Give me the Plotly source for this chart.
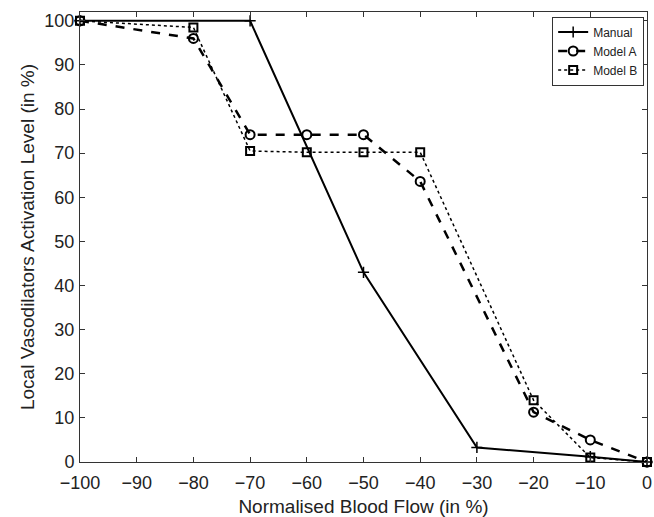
import plotly.graph_objects as go

manual_x = [-100, -70, -50, -30, -10, 0]
manual_y = [100, 100, 43, 3.3, 1.2, 0]
modelA_x = [-100, -80, -70, -60, -50, -40, -20, -10, 0]
modelA_y = [100, 96, 74.2, 74.2, 74.2, 63.6, 11.3, 5, 0]
modelB_x = [-100, -80, -70, -60, -50, -40, -20, -10, 0]
modelB_y = [100, 98.5, 70.5, 70.2, 70.2, 70.2, 14, 1, 0]

x_ticks = list(range(-100, 1, 10))
y_ticks = list(range(0, 101, 10))

font = "Liberation Sans, Arial, sans-serif"
fig = go.Figure()
fig.add_trace(go.Scatter(x=manual_x, y=manual_y, name="Manual", mode="lines+markers", cliponaxis=False,
                         line=dict(color="black", width=2, dash="solid"),
                         marker=dict(symbol="cross-thin", size=8, line=dict(color="black", width=1.5))))
fig.add_trace(go.Scatter(x=modelA_x, y=modelA_y, name="Model A", mode="lines+markers", cliponaxis=False,
                         line=dict(color="black", width=2.5, dash="dash"),
                         marker=dict(symbol="circle-open", size=9, color="black", line=dict(width=2))))
fig.add_trace(go.Scatter(x=modelB_x, y=modelB_y, name="Model B", mode="lines+markers", cliponaxis=False,
                         line=dict(color="black", width=1.5, dash="dot"),
                         marker=dict(symbol="square-open", size=8, color="black", line=dict(width=2))))

axis_common = dict(showgrid=False, zeroline=False, showline=True, linecolor="#333", linewidth=1,
                   mirror="ticks", ticks="inside", ticklen=5, tickcolor="#333",
                   ticklabeloverflow="allow",
                   tickfont=dict(size=18, color="#222", family=font))
fig.update_xaxes(range=[-100, 0], tickvals=x_ticks, ticktext=["\u2212%d" % abs(v) if v < 0 else "0" for v in x_ticks],
                 ticklabelstandoff=4, automargin=False,
                 title=dict(text="Normalised Blood Flow (in %)", font=dict(size=19, color="#222", family=font), standoff=10),
                 **axis_common)
fig.update_yaxes(range=[0, 102], tickvals=y_ticks, ticklabelstandoff=1,
                 title=dict(text="Local Vasodilators Activation Level (in %)", font=dict(size=19, color="#222", family=font), standoff=4),
                 **axis_common)
fig.update_layout(
    width=654, height=517, margin=dict(l=80, r=7, t=12, b=55),
    plot_bgcolor="white", paper_bgcolor="white",
    font=dict(family=font, color="#222"),
    legend=dict(x=0.995, y=0.99, xanchor="right", yanchor="top", bgcolor="white",
                bordercolor="#333", borderwidth=1, font=dict(size=12, family=font),
                tracegroupgap=0, itemwidth=30),
)
fig.write_html("out.html")
